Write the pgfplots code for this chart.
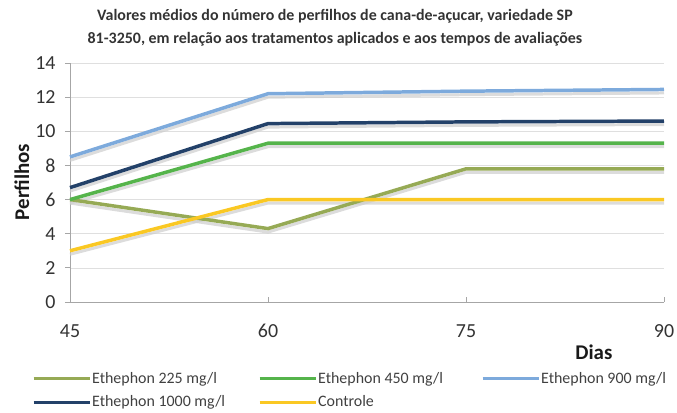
\documentclass[border=0pt]{standalone}
\usepackage{pgfplots}
\pgfplotsset{compat=1.18}
\usepackage{fontspec}
\setmainfont{Carlito}
\definecolor{c225}{RGB}{150,170,85}
\definecolor{c450}{RGB}{85,180,75}
\definecolor{c900}{RGB}{125,170,220}
\definecolor{c1000}{RGB}{35,65,105}
\definecolor{cctl}{RGB}{250,200,35}
\definecolor{shadow}{RGB}{205,205,205}
\pgfplotstableread{
x y
45 6.0
60 4.3
75 7.8
90 7.8
}\tA
\pgfplotstableread{
x y
45 6.0
60 9.3
75 9.3
90 9.3
}\tB
\pgfplotstableread{
x y
45 8.5
60 12.2
75 12.35
90 12.45
}\tC
\pgfplotstableread{
x y
45 6.7
60 10.45
75 10.55
90 10.6
}\tD
\pgfplotstableread{
x y
45 3.0
60 6.0
75 6.0
90 6.0
}\tE
\begin{document}
\begin{tikzpicture}
\begin{axis}[
  at={(0,0)}, anchor=south west,
  scale only axis, width=594bp, height=239bp,
  xmin=45, xmax=90, ymin=0, ymax=14,
  xtick={45,60,75,90}, ytick={0,2,...,14},
  axis x line*=bottom, axis y line*=left,
  axis line style={gray!70, line width=0.8pt},
  x axis line style={-}, y axis line style={-},
  ymajorgrids, grid style={gray!25, line width=0.6pt},
  tick style={gray!70, line width=0.8pt},
  xtick align=inside, ytick align=outside,
  major tick length=5bp,
  /pgf/number format/assume math mode=true,
  tick label style={font=\fontsize{20}{20}\selectfont, text=black!80},
  xticklabel style={yshift=-19bp},
  yticklabel style={xshift=-6bp},
  ylabel={\bfseries Perfilhos}, ylabel style={font=\fontsize{21}{21}\selectfont, at={(axis description cs:-0.081,0.502)}, anchor=center, text=black!90},
  xlabel={\bfseries Dias}, xlabel style={font=\fontsize{21}{21}\selectfont, at={(axis description cs:0.882,-0.209)}, anchor=center, text=black!90},
  title={\bfseries Valores médios do número de perfilhos de cana-de-açucar, variedade SP\\\bfseries 81-3250, em relação aos tratamentos aplicados e aos tempos de avaliações},
  title style={font=\fontsize{16}{23.5}\selectfont, align=center, at={(axis description cs:0.446,1.03)}, anchor=south, text=black!80},
  legend columns=3,
  legend style={at={(axis description cs:-0.064,-0.285)}, anchor=north west, draw=none, fill=none,
    font=\fontsize{16}{16}\selectfont, text=black!75,
    /tikz/every even column/.append style={column sep=0bp}, row sep=7bp,
    inner sep=0pt, nodes={inner xsep=1bp, inner ysep=2bp}},
  legend cell align=left,
  legend image code/.code={\draw[#1, line width=3pt] (0bp,0bp) -- (56bp,0bp);},
  clip=false,
]
% shadows
\addplot[shadow, line width=3pt, yshift=-3.5bp, forget plot, opacity=0.7] table {\tA};
\addplot[shadow, line width=3pt, yshift=-3.5bp, forget plot, opacity=0.7] table {\tB};
\addplot[shadow, line width=3pt, yshift=-3.5bp, forget plot, opacity=0.7] table {\tC};
\addplot[shadow, line width=3pt, yshift=-3.5bp, forget plot, opacity=0.7] table {\tD};
\addplot[shadow, line width=3pt, yshift=-3.5bp, forget plot, opacity=0.7] table {\tE};
% lines
\addplot[c225, line width=3.5pt] table {\tA};
\addlegendentry{\makebox[165bp][l]{Ethephon 225 mg/l}}
\addplot[c450, line width=3.5pt] table {\tB};
\addlegendentry{\makebox[162bp][l]{Ethephon 450 mg/l}}
\addplot[c900, line width=3.5pt] table {\tC};
\addlegendentry{\makebox[130bp][l]{Ethephon 900 mg/l}}
\addplot[c1000, line width=3.5pt] table {\tD};
\addlegendentry{\makebox[165bp][l]{Ethephon 1000 mg/l}}
\addplot[cctl, line width=3.5pt] table {\tE};
\addlegendentry{\makebox[162bp][l]{Controle}}
\end{axis}
\pgfresetboundingbox
\path (-70bp,-111bp) rectangle (607bp,302bp);
\end{tikzpicture}
\end{document}
